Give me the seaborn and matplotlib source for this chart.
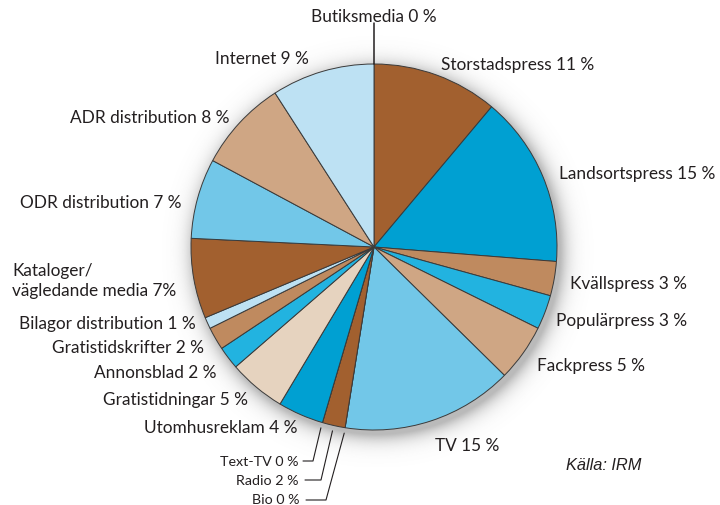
import numpy as np
import matplotlib
matplotlib.use("Agg")
import matplotlib.pyplot as plt
import seaborn as sns

# ---------------- data ----------------
categories = ["Butiksmedia", "Storstadspress", "Landsortspress", "Kvällspress",
              "Populärpress", "Fackpress", "TV", "Bio", "Radio", "Text-TV",
              "Utomhusreklam", "Gratistidningar", "Annonsblad", "Gratistidskrifter",
              "Bilagor distribution", "Kataloger/\nvägledande media", "ODR distribution",
              "ADR distribution", "Internet"]
shares = [0, 11, 15, 3, 3, 5, 15, 0, 2, 0, 4, 5, 2, 2, 1, 7, 7, 8, 9]
labels = ["Butiksmedia 0 %", "Storstadspress 11 %", "Landsortspress 15 %", "Kvällspress 3 %",
          "Populärpress 3 %", "Fackpress 5 %", "TV 15 %", "Bio 0 %", "Radio 2 %", "Text-TV 0 %",
          "Utomhusreklam 4 %", "Gratistidningar 5 %", "Annonsblad 2 %", "Gratistidskrifter 2 %",
          "Bilagor distribution 1 %", "Kataloger/\nvägledande media 7%", "ODR distribution 7 %",
          "ADR distribution 8 %", "Internet 9 %"]
source = "Källa: IRM"

# ---------------- style ----------------
sns.set_theme(style="white")
plt.rcParams['font.family'] = ['Lato', 'DejaVu Sans']

BROWN = "#a2602f"
BLUE = "#00a0d2"
TAN = "#bf8a5f"
MBLUE = "#22b3e0"
LTAN = "#cfa684"
SKY = "#72c7e8"
BEIGE = "#e6d3bf"
PALE = "#bde1f3"
colors = [PALE, BROWN, BLUE, TAN, MBLUE, LTAN, SKY, BROWN, BROWN, BROWN,
          BLUE, BEIGE, MBLUE, TAN, PALE, BROWN, SKY, LTAN, PALE]

W, H = 720, 506
CX, CY, R = 374, 248, 183      # pie centre / radius in pixels

fig = plt.figure(figsize=(W / 100, H / 100), dpi=100)
fig.patch.set_facecolor("white")

half = 220
ax = fig.add_axes([(CX - half) / W, (H - CY - half) / H, 2 * half / W, 2 * half / H])
ax.set_aspect("equal")
ax.axis("off")

# soft drop shadow (decoration)
n = 600
g = np.linspace(-half / R, half / R, n)
xx, yy = np.meshgrid(g, g)
d = np.hypot(xx - 0.02, yy + 0.025)
alpha = np.where(d < 1.0, 0.45, 0.45 * np.exp(-((d - 1.0) / 0.05) ** 1.2))
rgba = np.zeros((n, n, 4))
rgba[..., :3] = 0.4
rgba[..., 3] = alpha
ax.imshow(rgba, extent=[g[0], g[-1], g[0], g[-1]], origin="lower", zorder=0,
          interpolation="bilinear")

wedges, _ = ax.pie(shares, colors=colors, startangle=90, counterclock=False,
                   radius=1.0, wedgeprops=dict(edgecolor="#3a3a3a", linewidth=0.7),
                   normalize=True)
for w in wedges:
    w.set_zorder(2)
ax.set_xlim(-half / R, half / R)
ax.set_ylim(-half / R, half / R)

# overlay in pixel coordinates for labels
ov = fig.add_axes([0, 0, 1, 1])
ov.set_xlim(0, W)
ov.set_ylim(H, 0)
ov.axis("off")
ov.patch.set_alpha(0)

def edge_point(angle_deg, rf=1.0):
    a = np.deg2rad(angle_deg)
    return CX + R * rf * np.cos(a), CY - R * rf * np.sin(a)

BIG, SMALL = 12.4, 10.3
# label layout (pixels): x, y, ha, fontsize
layout = {
    "Butiksmedia": (374, 17, "center", BIG),
    "Storstadspress": (441, 65, "left", BIG),
    "Landsortspress": (559, 174, "left", BIG),
    "Kvällspress": (570, 284, "left", BIG),
    "Populärpress": (556, 321, "left", BIG),
    "Fackpress": (537, 366, "left", BIG),
    "TV": (435, 446, "left", BIG),
    "Bio": (299, 500, "right", SMALL),
    "Radio": (299, 481, "right", SMALL),
    "Text-TV": (299, 462, "right", SMALL),
    "Utomhusreklam": (297, 428, "right", BIG),
    "Gratistidningar": (248, 400, "right", BIG),
    "Annonsblad": (216, 373, "right", BIG),
    "Gratistidskrifter": (204, 348, "right", BIG),
    "Bilagor distribution": (196, 324, "right", BIG),
    "Kataloger/\nvägledande media": (12, 281, "left", BIG),
    "ODR distribution": (181, 203, "right", BIG),
    "ADR distribution": (229, 118, "right", BIG),
    "Internet": (309, 59, "right", BIG),
}
for cat, lab in zip(categories, labels):
    x, y, ha, fs = layout[cat]
    ov.text(x, y, lab, ha=ha, va="center", fontsize=fs, color="#231f20",
            linespacing=1.25)

# leader lines for thin slices, anchored on wedge boundaries
total = float(sum(shares))
starts = {}
acc = 0.0
for cat, v in zip(categories, shares):
    starts[cat] = 90 - 360 * acc / total
    acc += v
ends = {cat: starts[cat] - 360 * v / total for cat, v in zip(categories, shares)}

# Butiksmedia: vertical tick at the top
bx, by = edge_point(starts["Butiksmedia"], 1.0)
ov.plot([bx, bx], [by, 24], color="#231f20", lw=1.1)

# bottom three leaders
leaders = [("Text-TV", ends["Text-TV"], 462, 303, 313),
           ("Radio", (starts["Radio"] + ends["Radio"]) / 2, 481, 305, 321),
           ("Bio", ends["Bio"], 501, 306, 326)]
for cat, ang, ly, x0, x1 in leaders:
    px, py = edge_point(ang, 1.03)
    ov.plot([x0, x1, px], [ly, ly, py], color="#231f20", lw=0.8)

ov.text(566, 466, source, ha="left", va="center", fontsize=11.8, style="italic",
        color="#231f20", family=["Liberation Sans", "DejaVu Sans"])

fig.savefig("out.png", dpi=100, facecolor="white")
